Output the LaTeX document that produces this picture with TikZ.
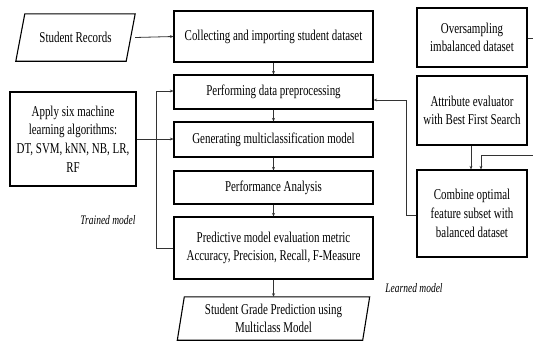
\documentclass[tikz,border=0pt]{standalone}
\usepackage{fontspec}
\setmainfont[FakeStretch=0.73]{Liberation Serif}
\usetikzlibrary{arrows.meta,calc}
\begin{document}
\begin{tikzpicture}[x=1pt,y=-1pt,
  box/.style={draw=black,line width=1.1pt,minimum width=#1,inner sep=0pt,align=center,
    font=\fontsize{15}{18.7}\selectfont},
  plain/.style={inner sep=0pt,align=center,minimum width=#1,font=\fontsize{15}{18.7}\selectfont},
  conn/.style={draw=black!80,line width=0.8pt},
  arr/.style={conn,-{Stealth[length=3.6pt,width=3pt]}},
  lbl/.style={font=\fontsize{13}{14}\selectfont\itshape,inner sep=0pt}]
\useasboundingbox (0,0) rectangle (533,343);
% left column
\node[plain=110,minimum height=47] (rec) at (75.5,37.5) {Student Records};
\draw[line width=1.1pt] ([xshift=4.5]rec.north west) -- ([xshift=4.5]rec.north east)
  -- ([xshift=-4.5]rec.south east) -- ([xshift=-4.5]rec.south west) -- cycle;
\node[box=126,minimum height=94] (app) at (73,139) {Apply six machine\\learning algorithms:\\DT, SVM, kNN, NB, LR,\\RF};
% center column
\node[box=199,minimum height=51] (col) at (273.5,36.5) {Collecting and importing student dataset};
\node[box=199,minimum height=34] (per) at (273.5,92) {Performing data preprocessing};
\node[box=199,minimum height=35] (gen) at (273.5,139.5) {Generating multiclassification model};
\node[box=199,minimum height=33] (pa) at (273.5,187.5) {Performance Analysis};
\node[box=199,minimum height=62] (pre) at (273.5,248) {Predictive model evaluation metric\\Accuracy, Precision, Recall, F-Measure};
\node[plain=185,minimum height=43] (gp) at (273.5,318.5) {Student Grade Prediction using\\Multiclass Model};
\draw[line width=1.1pt] ([xshift=3.5]gp.north west) -- ([xshift=3.5]gp.north east)
  -- ([xshift=-3.5]gp.south east) -- ([xshift=-3.5]gp.south west) -- cycle;
% right column
\node[box=110,minimum height=59] (ovs) at (472,37.5) {Oversampling\\imbalanced dataset};
\node[box=110,minimum height=69] (att) at (472,110.5) {Attribute evaluator\\with Best First Search};
\node[box=110,minimum height=87] (cmb) at (472,213.5) {Combine optimal\\feature subset with\\balanced dataset};
% labels
\node[lbl] (tm) at (108,220) {Trained model};
\node[lbl] (lm) at (414,288) {Learned model};
% coordinates at picture edge
\coordinate (oout) at (533,38);
\coordinate (rin) at (533,155);
% connectors
\draw[arr] ([xshift=4.5]rec.east) -- (col.west);
\draw[arr] (col.south) -- (per.north);
\draw[arr] (per.south) -- (gen.north);
\draw[arr] (gen.south) -- (pa.north);
\draw[arr] (pa.south) -- (pre.north);
\draw[arr] (pre.south) -- (gp.north);
\draw[arr] (app.east) -- (app.east -| gen.west);
\draw[arr] (pre.west) -- ++(-17,0) |- ([yshift=1]per.west);
\draw[arr] ([yshift=-1.5]cmb.west) -- ++(-10,0) |- ([yshift=-8]per.east);
\draw[arr] (att.south -| 471,0) -- (cmb.north -| 471,0);
\draw[arr] (rin) -| (cmb.north -| 481,0);
\draw[conn] (ovs.east |- oout) -- (oout);
\end{tikzpicture}
\end{document}
